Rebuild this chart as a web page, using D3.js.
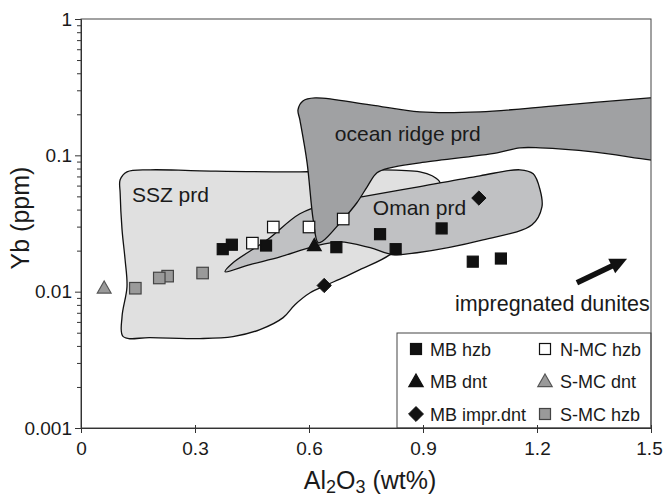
<!DOCTYPE html>
<html><head><meta charset="utf-8">
<script src="https://cdn.jsdelivr.net/npm/d3@7"></script>
<style>
body{margin:0;background:#fff}
text{font-family:"Liberation Sans",Arial,Helvetica,sans-serif;fill:#1a1a1a}
</style></head><body>
<svg id="c" width="663" height="498"></svg>
<script>
// ---- data ----
const xTicks = [0, 0.3, 0.6, 0.9, 1.2, 1.5];
const xTickLabels = ["0", "0.3", "0.6", "0.9", "1.2", "1.5"];
const yTicks = [0.001, 0.01, 0.1, 1];
const yTickLabels = ["0.001", "0.01", "0.1", "1"];

// series [Al2O3 wt%, Yb ppm]
const mbHzb = [[0.397,0.0221],[0.373,0.0205],[0.487,0.0218],[0.672,0.0212],[0.787,0.0264],[0.828,0.0205],[0.949,0.0291],[1.031,0.0166],[1.105,0.0175]];
const nmcHzb = [[0.451,0.0227],[0.506,0.0298],[0.600,0.0298],[0.690,0.0341]];
const mbDnt = [[0.614,0.0217]];
const mbImprDnt = [[0.640,0.0111],[1.047,0.0486]];
const smcDnt = [[0.061,0.0106]];
const smcHzb = [[0.143,0.0106],[0.228,0.0130],[0.206,0.0126],[0.320,0.0137]];

// field outlines [Al2O3, Yb]
const sszField = [[0.121,0.0757],[0.182,0.0783],[0.313,0.0770],[0.576,0.0757],[0.787,0.0783],[0.892,0.0757],[0.924,0.0708],[0.945,0.0630],[0.932,0.0470],[0.879,0.0285],[0.813,0.0187],[0.734,0.0145],[0.690,0.01267],[0.642,0.01107],[0.603,0.00983],[0.563,0.00803],[0.532,0.00645],[0.471,0.00527],[0.400,0.00468],[0.313,0.00453],[0.182,0.00460],[0.111,0.00468],[0.108,0.00656],[0.121,0.01088],[0.116,0.0172],[0.108,0.0285],[0.103,0.0531],[0.103,0.0661]];
const omanField = [[0.379,0.0140],[0.400,0.0163],[0.490,0.0240],[0.576,0.0373],[0.655,0.0449],[0.742,0.0497],[0.892,0.0590],[1.050,0.0708],[1.155,0.0783],[1.190,0.0732],[1.208,0.0559],[1.213,0.0419],[1.187,0.0310],[1.058,0.0240],[0.884,0.0193],[0.821,0.0187],[0.761,0.0210],[0.682,0.0232],[0.611,0.0214],[0.524,0.0180],[0.445,0.0158]];
const ridgeField = [[0.584,0.2508],[0.616,0.2638],[0.761,0.2344],[0.892,0.2083],[1.050,0.2083],[1.261,0.2328],[1.497,0.2638],[1.56,0.272],[1.56,0.089],[1.497,0.0927],[1.347,0.1061],[1.208,0.1135],[1.155,0.1135],[1.095,0.1043],[0.892,0.0881],[0.813,0.0810],[0.779,0.0744],[0.753,0.0588],[0.726,0.0449],[0.682,0.0320],[0.637,0.0236],[0.624,0.0229],[0.611,0.0337],[0.595,0.0881],[0.576,0.1820],[0.571,0.2154]];

const fieldLabels = [
  {text:"ocean ridge prd", x:0.668, y:0.1277, size:21},
  {text:"SSZ prd", x:0.134, y:0.0456, size:21},
  {text:"Oman prd", x:0.768, y:0.0366, size:21}
];
const arrowFrom = [1.305, 0.01164];
const arrowTo = [1.437, 0.01745];
const arrowLabel = {text:"impregnated dunites", x:0.984, y:0.00726};

const legendItems = [
  {label:"MB hzb", shape:"square", fill:"#111", stroke:"#111"},
  {label:"N-MC hzb", shape:"square", fill:"#fff", stroke:"#111"},
  {label:"MB dnt", shape:"triangle", fill:"#111", stroke:"#111"},
  {label:"S-MC dnt", shape:"triangle", fill:"#9a9a9a", stroke:"#555"},
  {label:"MB impr.dnt", shape:"diamond", fill:"#111", stroke:"#111"},
  {label:"S-MC hzb", shape:"square", fill:"#9a9a9a", stroke:"#444"}
];

// ---- layout ----
const L = 81, R = 651, T = 19, B = 428;
const svg = d3.select("#c");
const x = d3.scaleLinear().domain([0, 1.5]).range([L, R]);
const y = d3.scaleLog().domain([0.001, 1]).range([B, T]);

svg.append("defs").append("clipPath").attr("id","clip")
  .append("rect").attr("x",L).attr("y",T).attr("width",R-L).attr("height",B-T);

const line = d3.line().x(d=>x(d[0])).y(d=>y(d[1])).curve(d3.curveCatmullRomClosed.alpha(0.5));
const fg = svg.append("g").attr("clip-path","url(#clip)");
fg.append("path").attr("d", line(sszField)).attr("fill","#e0e0e0").attr("stroke","#111").attr("stroke-width",1.3);
fg.append("path").attr("d", line(omanField)).attr("fill","#c0c1c3").attr("stroke","#111").attr("stroke-width",1.3);
fg.append("path").attr("d", line(ridgeField)).attr("fill","#a0a1a3").attr("stroke","#111").attr("stroke-width",1.3);

// labels
fieldLabels.forEach(f=>{
  svg.append("text").attr("x",x(f.x)).attr("y",y(f.y)).attr("font-size",f.size).text(f.text);
});
svg.append("text").attr("x",x(arrowLabel.x)).attr("y",y(arrowLabel.y)).attr("font-size",21.5).text(arrowLabel.text);

// arrow
{
  const x0=x(arrowFrom[0]), y0=y(arrowFrom[1]), x1=x(arrowTo[0]), y1=y(arrowTo[1]);
  const dx=x1-x0, dy=y1-y0, len=Math.hypot(dx,dy), ux=dx/len, uy=dy/len;
  const hl=17, hw=8;
  const bx=x1-ux*hl, by=y1-uy*hl;
  svg.append("line").attr("x1",x0).attr("y1",y0).attr("x2",bx+ux*2).attr("y2",by+uy*2)
    .attr("stroke","#111").attr("stroke-width",5.5);
  svg.append("path").attr("d",`M${x1},${y1}L${bx-uy*hw},${by+ux*hw}L${bx+uy*hw},${by-ux*hw}Z`).attr("fill","#111");
}

// markers
function drawShape(g, shape, cx, cy, fill, stroke, s){
  if(shape==="square"){
    g.append("rect").attr("x",cx-s/2).attr("y",cy-s/2).attr("width",s).attr("height",s)
      .attr("fill",fill).attr("stroke",stroke).attr("stroke-width",1.2);
  } else if(shape==="triangle"){
    const w=s*1.2, h=s*1.05;
    g.append("path").attr("d",`M${cx},${cy-h*0.6}L${cx+w/2},${cy+h*0.4}L${cx-w/2},${cy+h*0.4}Z`)
      .attr("fill",fill).attr("stroke",stroke).attr("stroke-width",1.2);
  } else {
    const r=s*0.62;
    g.append("path").attr("d",`M${cx},${cy-r}L${cx+r},${cy}L${cx},${cy+r}L${cx-r},${cy}Z`)
      .attr("fill",fill).attr("stroke",stroke).attr("stroke-width",1);
  }
}
const mg = svg.append("g");
smcHzb.forEach(d=>drawShape(mg,"square",x(d[0]),y(d[1]),"#9a9a9a","#444",11.5));
smcDnt.forEach(d=>drawShape(mg,"triangle",x(d[0]),y(d[1]),"#9a9a9a","#555",11.5));
mbHzb.forEach(d=>drawShape(mg,"square",x(d[0]),y(d[1]),"#111","#111",11));
nmcHzb.forEach(d=>drawShape(mg,"square",x(d[0]),y(d[1]),"#fff","#111",11.5));
mbDnt.forEach(d=>drawShape(mg,"triangle",x(d[0]),y(d[1]),"#111","#111",11.5));
mbImprDnt.forEach(d=>drawShape(mg,"diamond",x(d[0]),y(d[1]),"#111","#111",11.5));

// legend
{
  const lx=397, ly=333;
  svg.append("rect").attr("x",lx).attr("y",ly).attr("width",R-lx).attr("height",B-ly)
    .attr("fill","#fff").attr("stroke","#444").attr("stroke-width",1);
  legendItems.forEach((it,i)=>{
    const col=i%2, row=Math.floor(i/2);
    const mx = col===0 ? 416 : 545;
    const tx = col===0 ? 430 : 560;
    const cy = 349 + row*32.5;
    drawShape(svg, it.shape, mx, cy, it.fill, it.stroke, it.shape==="square"?11:12);
    svg.append("text").attr("x",tx).attr("y",cy+6.5).attr("font-size",18).text(it.label);
  });
}

// frame
svg.append("rect").attr("x",L).attr("y",T).attr("width",R-L).attr("height",B-T)
  .attr("fill","none").attr("stroke","#444").attr("stroke-width",1);

// y axis
const minor = [];
for(let e=-3;e<0;e++) for(let m=2;m<=9;m++) minor.push(m*Math.pow(10,e));
const yg = svg.append("g").attr("transform",`translate(${L},0)`);
yg.call(d3.axisLeft(y).tickValues(minor).tickFormat("").tickSize(4).tickSizeOuter(0));
yg.append("g").call(d3.axisLeft(y).tickValues(yTicks).tickFormat((d,i)=>yTickLabels[i]).tickSize(6).tickPadding(3).tickSizeOuter(0));
yg.selectAll(".domain").attr("stroke","#333");
yg.selectAll(".tick line").attr("stroke","#333");
yg.selectAll(".tick text").attr("font-size",19).attr("font-family","Liberation Sans, Arial, sans-serif").attr("fill","#1a1a1a");

// x axis
const xg = svg.append("g").attr("transform",`translate(0,${B})`);
xg.call(d3.axisBottom(x).tickValues(xTicks).tickFormat((d,i)=>xTickLabels[i]).tickSize(5).tickPadding(9).tickSizeOuter(0));
xg.selectAll(".tick line").attr("y1",-3).attr("stroke","#333");
xg.selectAll(".domain").attr("stroke","#333");
xg.selectAll(".tick text").attr("font-size",19).attr("font-family","Liberation Sans, Arial, sans-serif").attr("fill","#1a1a1a");
xg.selectAll(".tick text").filter((d,i)=>i===xTicks.length-1).attr("dx",-2);

// axis titles
const xt = svg.append("text").attr("x",370).attr("y",489).attr("text-anchor","middle").attr("font-size",25);
xt.append("tspan").text("Al");
xt.append("tspan").attr("font-size",18).attr("dy",4).text("2");
xt.append("tspan").attr("dy",-4).text("O");
xt.append("tspan").attr("font-size",18).attr("dy",4).text("3");
xt.append("tspan").attr("dy",-4).text(" (wt%)");

svg.append("text").attr("transform","translate(29,218) rotate(-90)").attr("text-anchor","middle").attr("font-size",25).text("Yb (ppm)");
</script>
</body></html>
